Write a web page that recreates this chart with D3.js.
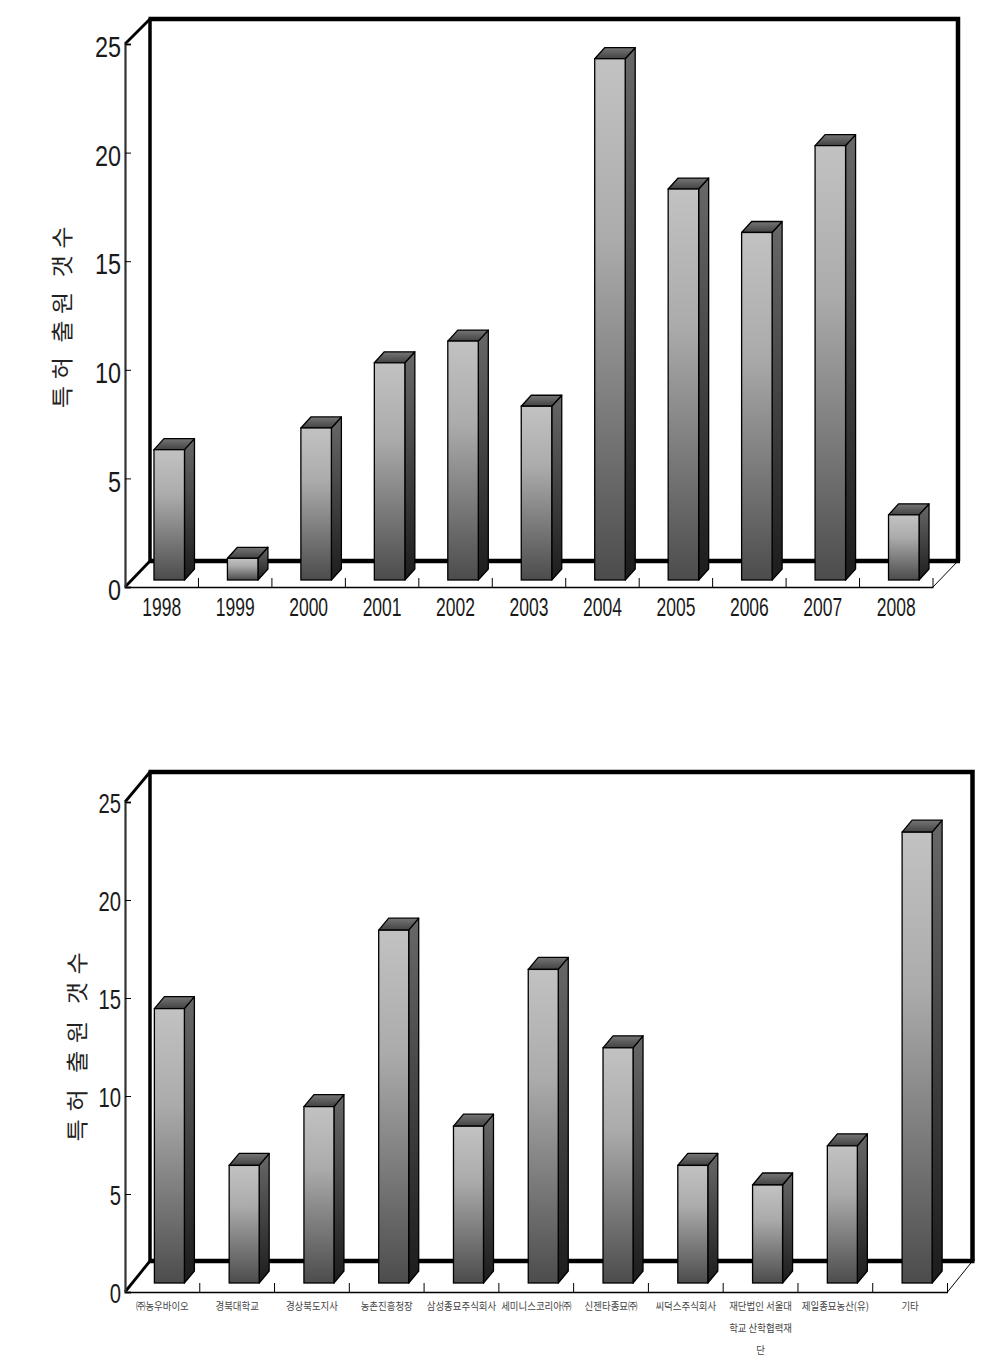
<!DOCTYPE html>
<html><head><meta charset="utf-8">
<style>html,body{margin:0;padding:0;background:#fff}svg{display:block}</style>
<script src="https://cdn.jsdelivr.net/npm/d3@7/dist/d3.min.js"></script>
</head><body><svg id="c" width="987" height="1366"></svg>
<script>
const yearCategories = ["1998","1999","2000","2001","2002","2003","2004","2005","2006","2007","2008"];
const yearValues = [6,1,7,10,11,8,24,18,16,20,3];
const applicantCategories = ["㈜농우바이오","경북대학교","경상북도지사","농촌진흥청장","삼성종묘주식회사","세미니스코리아㈜","신젠타종묘㈜","씨덕스주식회사","재단법인 서울대|학교 산학협력재|단","제일종묘농산(유)","기타"];
const applicantValues = [14,6,9,18,8,16,12,6,5,7,23];
const yTicks = [0,5,10,15,20,25];
const yTitle = "특허 출원 갯수";

const svg = d3.select("#c");
const defs = svg.append("defs");
function grad(id, stops){
  const g = defs.append("linearGradient").attr("id",id).attr("x1",0).attr("x2",0).attr("y1",0).attr("y2",1);
  stops.forEach(s=>g.append("stop").attr("offset",s[0]).attr("stop-color",s[1]));
}
grad("front",[[0,"#c2c2c2"],[0.35,"#ababab"],[1,"#4c4c4c"]]);
grad("side",[[0,"#686868"],[1,"#1c1c1c"]]);
grad("top",[[0,"#767676"],[1,"#424242"]]);

function draw(cfg){
  const g = svg.append("g");
  const {x0,x1,y0,y25,dx,dy,top,barW,bdx,bdy,bOffX,bOffY} = cfg;
  const x = d3.scaleBand().domain(cfg.cats).range([x0,x1]).padding(0);
  const y = d3.scaleLinear().domain([0,25]).range([y0,y25]);
  const stroke = "#000";
  // back wall
  g.append("line").attr("x1",x0+dx).attr("x2",x0+dx).attr("y1",top).attr("y2",y0-dy).attr("stroke",stroke).attr("stroke-width",3.5);
  g.append("path").attr("d",`M${x0+dx-1.5},${top}H${x1+dx}V${y0-dy}`)
    .attr("fill","none").attr("stroke",stroke).attr("stroke-width",4.5);
  g.append("line").attr("x1",x0+dx-1).attr("x2",x1+dx+2).attr("y1",y0-dy).attr("y2",y0-dy).attr("stroke",stroke).attr("stroke-width",4.5);
  // side wall edges
  g.append("line").attr("x1",x0).attr("y1",y25).attr("x2",x0+dx).attr("y2",top).attr("stroke",stroke).attr("stroke-width",2.8);
  g.append("line").attr("x1",x0).attr("y1",y0).attr("x2",x0+dx).attr("y2",y0-dy).attr("stroke",stroke).attr("stroke-width",2.8);
  g.append("line").attr("x1",x1).attr("y1",y0).attr("x2",x1+dx).attr("y2",y0-dy).attr("stroke",stroke).attr("stroke-width",1);
  // y axis
  const ya = g.append("g").attr("transform",`translate(${x0},0)`)
    .call(d3.axisLeft(y).tickValues(yTicks).tickSize(-6).tickPadding(4).tickFormat(d3.format("d")));
  ya.select(".domain").attr("stroke","#333").attr("stroke-width",2.2);
  ya.selectAll(".tick line").attr("stroke","#000").attr("stroke-width",1);
  ya.selectAll(".tick text")
    .attr("font-family","'Liberation Sans',Arial,sans-serif").attr("font-size",cfg.yFont).attr("fill","#1a1a1a")
    .attr("x",-4/cfg.ySx).attr("y",cfg.yShift).attr("transform",`scale(${cfg.ySx},1)`);
  // x axis
  const xa = g.append("g").attr("transform",`translate(0,${y0})`)
    .call(d3.axisBottom(x).tickSize(0).tickPadding(cfg.xPad));
  xa.select(".domain").attr("stroke","#000").attr("stroke-width",1.3);
  g.append("g").selectAll("line").data(cfg.cats).join("line")
    .attr("x1",d=>x(d)+x.step()).attr("x2",d=>x(d)+x.step())
    .attr("y1",y0).attr("y2",y0-9).attr("stroke","#000").attr("stroke-width",1);
  const labels = xa.selectAll(".tick text")
    .attr("font-family",cfg.xFamily).attr("font-size",cfg.xFont).attr("fill",cfg.xFill)
    .attr("transform",`scale(${cfg.xSx},1)`);
  labels.each(function(d){
    const t=d3.select(this), parts=d.split("|");
    t.text(null);
    parts.forEach((p,i)=>t.append("tspan").attr("x",0).attr("dy",i?22:"0.71em").text(p));
  });
  // bars
  const bars = g.append("g").selectAll("g").data(cfg.cats.map((c,i)=>({c,v:cfg.vals[i]}))).join("g");
  const L = d=>x(d.c)+x.bandwidth()/2+bOffX-barW/2;
  const B = y(0)-bOffY;
  const T = d=>y(d.v)-bOffY;
  const ow = 1.3;
  bars.append("path").attr("d",d=>`M${L(d)+barW},${T(d)}l${bdx},${-bdy}V${B-bdy}l${-bdx},${bdy}Z`)
    .attr("fill","url(#side)").attr("stroke","#000").attr("stroke-width",ow).attr("stroke-linejoin","round");
  bars.append("path").attr("d",d=>`M${L(d)},${T(d)}l${bdx},${-bdy}h${barW}l${-bdx},${bdy}Z`)
    .attr("fill","url(#top)").attr("stroke","#000").attr("stroke-width",ow).attr("stroke-linejoin","round");
  bars.append("rect").attr("x",L).attr("y",T).attr("width",barW).attr("height",d=>B-T(d))
    .attr("fill","url(#front)").attr("stroke","#000").attr("stroke-width",ow);
  // y title
  g.append("text").attr("transform",`translate(${cfg.titleX},${cfg.titleY}) rotate(-90) scale(1.1,1)`)
    .attr("text-anchor","middle").attr("font-family","'Noto Sans CJK KR',sans-serif")
    .attr("font-size",cfg.titleFont).attr("letter-spacing",cfg.titleLs).attr("word-spacing",cfg.titleWs).attr("fill","#222").text(yTitle);
}
draw({cats:yearCategories,vals:yearValues,x0:125,x1:933,y0:587,y25:44,dx:25,dy:26,top:19,barW:30.5,bdx:10,bdy:11,bOffX:7.5,bOffY:7,
  yFont:30,ySx:0.78,yShift:3,xFont:25,xSx:0.7,xPad:11,xFamily:"'Liberation Sans',Arial,sans-serif",xFill:"#1a1a1a",
  titleX:70,titleY:314,titleFont:22,titleLs:6,titleWs:-4});
draw({cats:applicantCategories,vals:applicantValues,x0:125,x1:947.5,y0:1292,y25:802,dx:25,dy:31,top:772,barW:30,bdx:10,bdy:12,bOffX:7,bOffY:9,
  yFont:27,ySx:0.75,yShift:2,xFont:10.5,xSx:0.9,xPad:11,xFamily:"'Noto Sans CJK KR',sans-serif",xFill:"#444",
  titleX:85,titleY:1043,titleFont:22,titleLs:7,titleWs:-4});
</script></body></html>
